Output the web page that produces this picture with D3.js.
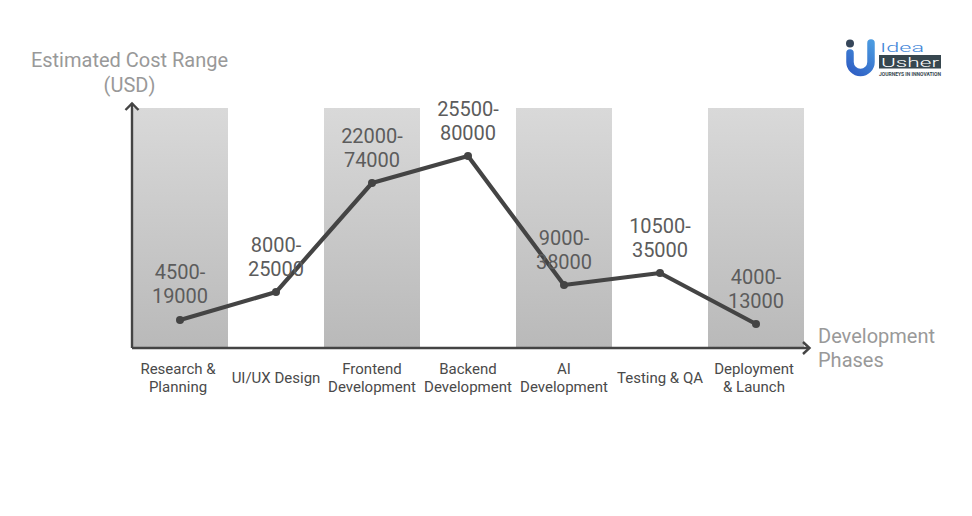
<!DOCTYPE html>
<html>
<head>
<meta charset="utf-8">
<script src="https://cdn.jsdelivr.net/npm/d3@7/dist/d3.min.js"></script>
<style>
html,body{margin:0;padding:0;background:#fff}
svg{display:block}
text{font-family:Roboto,sans-serif}
</style>
</head>
<body>
<svg id="c" width="972" height="516"></svg>
<script>
const phases = [["Research &","Planning"],["UI/UX Design"],["Frontend","Development"],["Backend","Development"],["AI","Development"],["Testing & QA"],["Deployment","& Launch"]];
const rangeLabels = [["4500-","19000"],["8000-","25000"],["22000-","74000"],["25500-","80000"],["9000-","38000"],["10500-","35000"],["4000-","13000"]];
const plottedLevels = [11.7,23.3,68.75,80,26.25,31.25,10];
const yTitle = ["Estimated Cost Range","(USD)"];
const xTitle = ["Development","Phases"];

const svg = d3.select("#c");
const defs = svg.append("defs");
const g = defs.append("linearGradient").attr("id","bar").attr("x1",0).attr("x2",0).attr("y1",0).attr("y2",1);
g.append("stop").attr("offset","0%").attr("stop-color","#d9d9d9");
g.append("stop").attr("offset","100%").attr("stop-color","#b9b9b9");
const lg = defs.append("linearGradient").attr("id","logoU").attr("gradientUnits","userSpaceOnUse").attr("x1",850).attr("x2",874).attr("y1",72).attr("y2",44);
lg.append("stop").attr("offset","0%").attr("stop-color","#2f5fc4");
lg.append("stop").attr("offset","100%").attr("stop-color","#4a9ae0");

const x = d3.scaleBand().domain(d3.range(phases.length)).range([132,804]).padding(0);
const y = d3.scaleLinear().domain([0,100]).range([348,108]);

svg.append("g").selectAll("rect").data(phases.map((d,i)=>i).filter(i=>i%2===0)).join("rect")
  .attr("x",i=>x(i)).attr("width",x.bandwidth())
  .attr("y",y(100)).attr("height",y(0)-y(100)).attr("fill","url(#bar)");

// axes
const axisColor = "#444";
const ax = svg.append("g").attr("fill","none").attr("stroke",axisColor).attr("stroke-width",2.4);
ax.append("path").attr("d",`M${x.range()[0]},${y(0)}H809`);
ax.append("path").attr("d",`M${x.range()[0]},${y(0)}V103`);
ax.append("path").attr("d",`M803,342L809.5,348L803,354`);
ax.append("path").attr("d",`M125.5,110L132,103.5L138.5,110`);

// line
const cx = i=>x(i)+x.bandwidth()/2;
const line = d3.line().x((d,i)=>cx(i)).y(d=>y(d));
svg.append("path").attr("d",line(plottedLevels)).attr("fill","none").attr("stroke","#444").attr("stroke-width",4.2).attr("stroke-linejoin","round");
svg.append("g").selectAll("circle").data(plottedLevels).join("circle")
  .attr("cx",(d,i)=>cx(i)).attr("cy",d=>y(d)).attr("r",4).attr("fill","#444");

// data labels
const lab = svg.append("g").attr("text-anchor","middle").attr("font-size",20).attr("fill","#5c5c5c");
rangeLabels.forEach((l,i)=>{
  const t = lab.append("text").attr("x",cx(i));
  t.append("tspan").attr("x",cx(i)).attr("y",y(plottedLevels[i])-40.5).text(l[0]);
  t.append("tspan").attr("x",cx(i)).attr("y",y(plottedLevels[i])-16.5).text(l[1]);
});

// category labels
const cat = svg.append("g").attr("text-anchor","middle").attr("font-size",15).attr("fill","#4a4a4a");
phases.forEach((l,i)=>{
  const t = cat.append("text");
  const ys = l.length===2 ? [374,392] : [383];
  const nudge = (i===0||i===phases.length-1) ? -2 : 0;
  l.forEach((s,j)=>t.append("tspan").attr("x",cx(i)+nudge).attr("y",ys[j]).text(s));
});

// axis titles
const yt = svg.append("text").attr("text-anchor","middle").attr("font-size",20).attr("fill","#999");
yTitle.forEach((s,j)=>yt.append("tspan").attr("x",129.5).attr("y",67+j*25).text(s));
const xt = svg.append("text").attr("font-size",20).attr("fill","#999");
xTitle.forEach((s,j)=>xt.append("tspan").attr("x",818).attr("y",343+j*24).text(s));

// logo
const logo = svg.append("g");
logo.append("circle").attr("cx",850).attr("cy",43.5).attr("r",4).attr("fill","#36465a");
logo.append("path").attr("d","M850,53V62A10.5,10.5 0 0 0 871,62V43").attr("fill","none").attr("stroke","url(#logoU)").attr("stroke-width",7.5).attr("stroke-linecap","round");
logo.append("text").attr("x",880).attr("y",52).attr("font-size",13).attr("font-weight",300).attr("textLength",44).attr("lengthAdjust","spacingAndGlyphs").attr("fill","#3f86d8").text("Idea");
logo.append("rect").attr("x",879).attr("y",55).attr("width",62).attr("height",13.5).attr("fill","#37474f");
logo.append("text").attr("x",881).attr("y",66.5).attr("font-size",13).attr("font-weight",300).attr("textLength",58).attr("lengthAdjust","spacingAndGlyphs").attr("fill","#fff").text("Usher");
logo.append("text").attr("x",879).attr("y",76).attr("font-size",4.8).attr("font-weight",700).attr("textLength",62).attr("lengthAdjust","spacingAndGlyphs").attr("fill","#37474f").text("JOURNEYS IN INNOVATION");
</script>
</body>
</html>
